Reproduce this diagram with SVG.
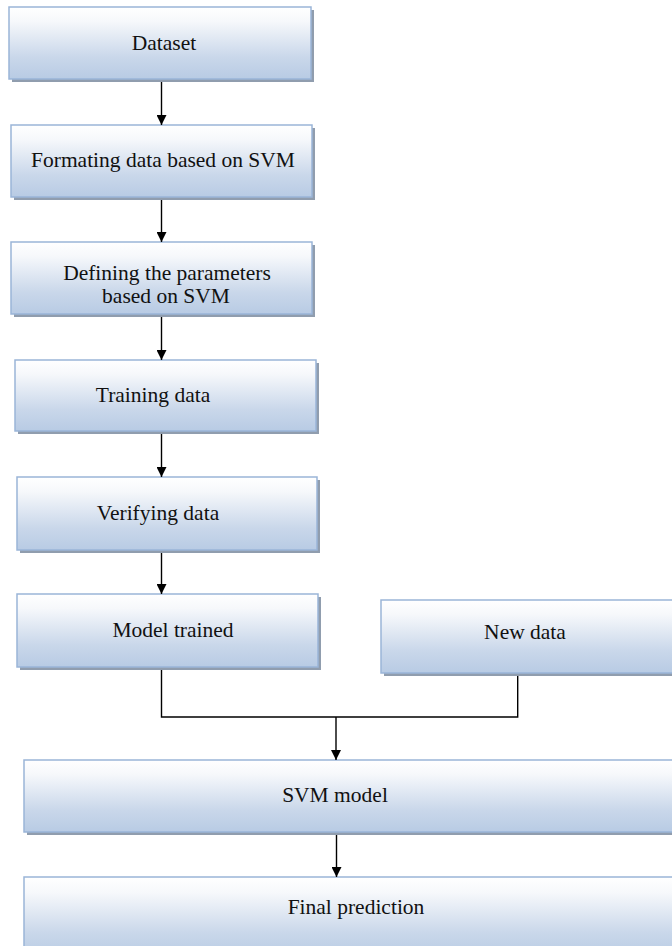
<svg xmlns="http://www.w3.org/2000/svg" width="672" height="946" viewBox="0 0 672 946">
<defs>
<linearGradient id="g" x1="0" y1="0" x2="0" y2="1">
<stop offset="0" stop-color="#ffffff"/>
<stop offset="0.2" stop-color="#f6f8fb"/>
<stop offset="0.7" stop-color="#c9d7ea"/>
<stop offset="1" stop-color="#b8cbe4"/>
</linearGradient>
<marker id="ah" markerWidth="10" markerHeight="10" refX="10" refY="5" orient="auto" markerUnits="userSpaceOnUse">
<path d="M0,0 L10,5 L0,10 Z" fill="#000"/>
</marker>
</defs>
<style>
.sh{fill:#909dae}
.bx{fill:url(#g);stroke:#9ab5d8;stroke-width:1.5}
.t{font-family:"Liberation Serif","Times New Roman",serif;font-size:21.5px;fill:#111;text-anchor:middle}
.c{stroke:#000;stroke-width:1.4;fill:none}
</style>
<rect width="672" height="946" fill="#fff"/>
<g id="n1"><rect class="sh" x="12" y="10" width="302" height="72"/><rect class="bx" x="9" y="7" width="302" height="72"/><text class="t" x="164" y="50">Dataset</text></g>
<g id="n2"><rect class="sh" x="14" y="128" width="301" height="72"/><rect class="bx" x="11" y="125" width="301" height="72"/><text class="t" x="163" y="167">Formating data based on SVM</text></g>
<g id="n3"><rect class="sh" x="14" y="245" width="301" height="72"/><rect class="bx" x="11" y="242" width="301" height="72"/><text class="t" x="167" y="280">Defining the parameters</text><text class="t" x="166" y="303">based on SVM</text></g>
<g id="n4"><rect class="sh" x="18" y="363" width="301" height="71"/><rect class="bx" x="15" y="360" width="301" height="71"/><text class="t" x="153" y="402">Training data</text></g>
<g id="n5"><rect class="sh" x="20" y="480" width="300" height="73"/><rect class="bx" x="17" y="477" width="300" height="73"/><text class="t" x="158" y="520">Verifying data</text></g>
<g id="n6"><rect class="sh" x="20" y="597" width="301" height="73"/><rect class="bx" x="17" y="594" width="301" height="73"/><text class="t" x="173" y="637">Model trained</text></g>
<g id="n7"><rect class="sh" x="384" y="603" width="300" height="73"/><rect class="bx" x="381" y="600" width="300" height="73"/><text class="t" x="525" y="639">New data</text></g>
<g id="n8"><rect class="sh" x="27" y="763" width="660" height="72"/><rect class="bx" x="24" y="760" width="660" height="72"/><text class="t" x="335" y="802">SVM model</text></g>
<g id="n9"><rect class="sh" x="27" y="880" width="660" height="80"/><rect class="bx" x="24" y="877" width="660" height="80"/><text class="t" x="356" y="914">Final prediction</text></g>
<g id="connectors">
<line class="c" x1="161.5" y1="82" x2="161.5" y2="125" marker-end="url(#ah)"/>
<line class="c" x1="161.5" y1="200" x2="161.5" y2="242" marker-end="url(#ah)"/>
<line class="c" x1="161.5" y1="317" x2="161.5" y2="360" marker-end="url(#ah)"/>
<line class="c" x1="161.5" y1="434" x2="161.5" y2="477" marker-end="url(#ah)"/>
<line class="c" x1="161.5" y1="553" x2="161.5" y2="594" marker-end="url(#ah)"/>
<polyline class="c" points="161.5,670 161.5,717 517.7,717 517.7,676"/>
<line class="c" x1="336" y1="717" x2="336" y2="760" marker-end="url(#ah)"/>
<line class="c" x1="336.5" y1="835" x2="336.5" y2="877" marker-end="url(#ah)"/>
</g>
</svg>
